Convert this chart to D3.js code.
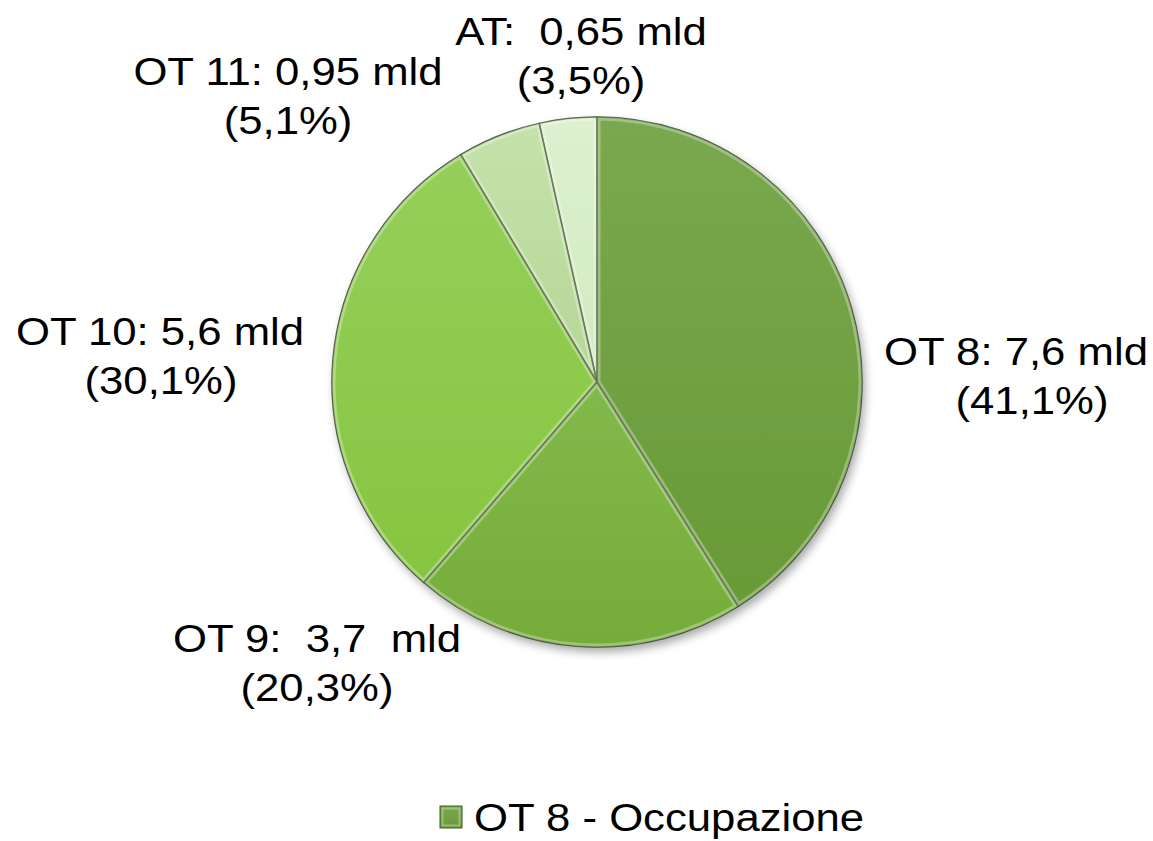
<!DOCTYPE html>
<html>
<head>
<meta charset="utf-8">
<script src="https://cdn.jsdelivr.net/npm/d3@7.9.0/dist/d3.min.js"></script>
<style>
  body { margin: 0; background: #fff; }
  svg text { font-family: "Liberation Sans", Arial, sans-serif; fill: #000; white-space: pre; }
</style>
</head>
<body>
<svg id="chart" width="1153" height="841"></svg>
<script>
// data
const categories = ['OT 8', 'OT 9', 'OT 10', 'OT 11', 'AT'];
const amounts = ['7,6', '3,7', '5,6', '0,95', '0,65'];
const shares = [41.1, 20.3, 30.1, 5.1, 3.5];
const shareLabels = ['41,1%', '20,3%', '30,1%', '5,1%', '3,5%'];
const legendLabels = ['OT 8 - Occupazione'];

// slice colours (top, bottom of gradient)
const topColors = ['#7aa84f', '#82b94a', '#95cf5a', '#c4e2aa', '#ddf0cf'];
const bottomColors = ['#689a36', '#75ac39', '#87c540', '#b5d796', '#d1eac0'];

const width = 1153, height = 841;
const cx = 597, cy = 382, radius = 265;
const fontSize = 38, stretch = 1.15;

// label anchors (centre x, baseline y of the first line), second-line shift
const labelAnchors = [[1016, 365, 16], [317, 652, 0], [160, 345, 1], [288, 85, 0], [581, 45, 0]];
const lineGap = 49;

const svg = d3.select('#chart');
const defs = svg.append('defs');

shares.forEach((d, i) => {
  const g = defs.append('linearGradient')
    .attr('id', `grad${i}`)
    .attr('x1', 0).attr('y1', 0).attr('x2', 0).attr('y2', 1);
  g.append('stop').attr('offset', '0%').attr('stop-color', topColors[i]);
  g.append('stop').attr('offset', '100%').attr('stop-color', bottomColors[i]);
});

const shadow = defs.append('filter').attr('id', 'shadow')
  .attr('x', '-10%').attr('y', '-10%').attr('width', '130%').attr('height', '130%');
shadow.append('feDropShadow')
  .attr('dx', 3).attr('dy', 5).attr('stdDeviation', 5)
  .attr('flood-color', '#000').attr('flood-opacity', 0.35);

const pie = d3.pie().sort(null).value((d) => d);
const arcData = pie(shares);
const arcGen = d3.arc().innerRadius(0).outerRadius(radius);

const pieG = svg.append('g').attr('transform', `translate(${cx},${cy})`);

// clip paths so the highlight stroke only shows inside each slice
arcData.forEach((d, i) => {
  defs.append('clipPath').attr('id', `clip${i}`)
    .append('path').attr('d', arcGen(d)).attr('transform', `translate(${cx},${cy})`);
});

const base = pieG.append('g').attr('filter', 'url(#shadow)');
base.selectAll('path')
  .data(arcData)
  .join('path')
  .attr('d', arcGen)
  .attr('fill', (d, i) => `url(#grad${i})`);

// bevel: light inner rim, then dark outline
const rim = svg.append('g');
arcData.forEach((d, i) => {
  rim.append('g')
    .attr('clip-path', `url(#clip${i})`)
    .append('path')
    .attr('transform', `translate(${cx},${cy})`)
    .attr('d', arcGen(d))
    .attr('fill', 'none')
    .attr('stroke', '#ffffff')
    .attr('stroke-opacity', 0.3)
    .attr('stroke-width', 7)
    .attr('stroke-linejoin', 'round');
});

pieG.append('g').selectAll('path')
  .data(arcData)
  .join('path')
  .attr('d', arcGen)
  .attr('fill', 'none')
  .attr('stroke', '#2e4119')
  .attr('stroke-opacity', 0.85)
  .attr('stroke-width', 1.5)
  .attr('stroke-linejoin', 'round');

// labels
const firstLine = (i) => {
  if (i === 1) return `${categories[i]}:  ${amounts[i]}  mld`;
  if (i === 4) return `${categories[i]}:  ${amounts[i]} mld`;
  return `${categories[i]}: ${amounts[i]} mld`;
};

arcData.forEach((d, i) => {
  const [lx, ly, shift] = labelAnchors[i];
  svg.append('text')
    .attr('transform', `translate(${lx},${ly}) scale(${stretch},1)`)
    .attr('text-anchor', 'middle')
    .attr('font-size', fontSize)
    .text(firstLine(i));
  svg.append('text')
    .attr('transform', `translate(${lx + shift},${ly + lineGap}) scale(${stretch},1)`)
    .attr('text-anchor', 'middle')
    .attr('font-size', fontSize)
    .text(`(${shareLabels[i]})`);
});

// legend
const legend = svg.append('g').attr('transform', 'translate(440,806)');
legendLabels.forEach((label, i) => {
  legend.append('rect')
    .attr('x', 0).attr('y', 0).attr('width', 22).attr('height', 22)
    .attr('fill', `url(#grad${i})`)
    .attr('stroke', '#3f5a25').attr('stroke-width', 1);
  legend.append('rect')
    .attr('x', 2.5).attr('y', 2.5).attr('width', 17).attr('height', 17)
    .attr('fill', 'none')
    .attr('stroke', '#ffffff').attr('stroke-opacity', 0.3).attr('stroke-width', 2);
  legend.append('text')
    .attr('transform', `translate(34,25) scale(${stretch},1)`)
    .attr('font-size', fontSize)
    .text(label);
});
</script>
</body>
</html>
